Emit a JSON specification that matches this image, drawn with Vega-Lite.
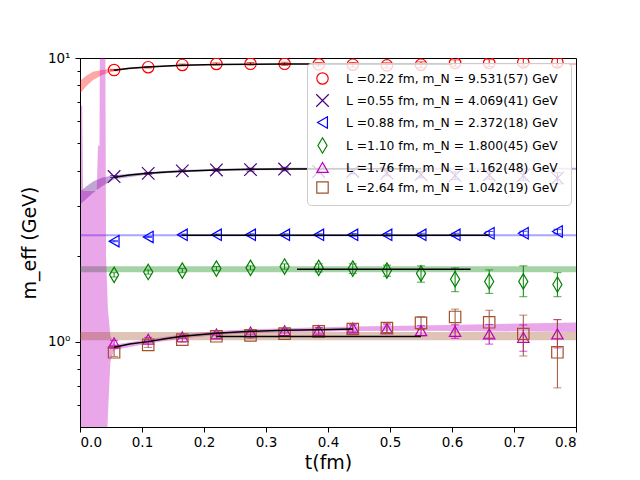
{
  "$schema": "https://vega.github.io/schema/vega-lite/v6.json",
  "description": "Effective nucleon mass vs t for six box sizes, log y axis, with fit curves and bands.",
  "width": 496,
  "height": 369,
  "autosize": "none",
  "padding": {"left": 80, "top": 58, "right": 64, "bottom": 53},
  "datasets": {
    "pts": [
      {"s": "0.22", "t": 0.055, "m": 9.07, "lo": 9.02, "hi": 9.12},
      {"s": "0.22", "t": 0.11, "m": 9.28, "lo": 9.22, "hi": 9.34},
      {"s": "0.22", "t": 0.165, "m": 9.45, "lo": 9.38, "hi": 9.52},
      {"s": "0.22", "t": 0.22, "m": 9.53, "lo": 9.45, "hi": 9.61},
      {"s": "0.22", "t": 0.275, "m": 9.54, "lo": 9.44, "hi": 9.64},
      {"s": "0.22", "t": 0.33, "m": 9.54, "lo": 9.42, "hi": 9.66},
      {"s": "0.22", "t": 0.385, "m": 9.5, "lo": 9.36, "hi": 9.64},
      {"s": "0.22", "t": 0.44, "m": 9.47, "lo": 9.3, "hi": 9.64},
      {"s": "0.22", "t": 0.495, "m": 9.42, "lo": 9.22, "hi": 9.62},
      {"s": "0.22", "t": 0.55, "m": 9.47, "lo": 9.25, "hi": 9.69},
      {"s": "0.22", "t": 0.605, "m": 9.6, "lo": 9.35, "hi": 9.85},
      {"s": "0.22", "t": 0.66, "m": 9.6, "lo": 9.33, "hi": 9.87},
      {"s": "0.22", "t": 0.715, "m": 9.65, "lo": 9.35, "hi": 9.95},
      {"s": "0.22", "t": 0.77, "m": 9.65, "lo": 9.33, "hi": 9.97},
      {"s": "0.55", "t": 0.055, "m": 3.82, "lo": 3.79, "hi": 3.85},
      {"s": "0.55", "t": 0.11, "m": 3.92, "lo": 3.89, "hi": 3.95},
      {"s": "0.55", "t": 0.165, "m": 4.0, "lo": 3.97, "hi": 4.03},
      {"s": "0.55", "t": 0.22, "m": 4.03, "lo": 3.99, "hi": 4.07},
      {"s": "0.55", "t": 0.275, "m": 4.04, "lo": 3.99, "hi": 4.09},
      {"s": "0.55", "t": 0.33, "m": 4.06, "lo": 4.0, "hi": 4.12},
      {"s": "0.55", "t": 0.385, "m": 3.98, "lo": 3.91, "hi": 4.05},
      {"s": "0.55", "t": 0.44, "m": 3.98, "lo": 3.9, "hi": 4.06},
      {"s": "0.55", "t": 0.495, "m": 3.93, "lo": 3.84, "hi": 4.02},
      {"s": "0.55", "t": 0.55, "m": 3.88, "lo": 3.78, "hi": 3.98},
      {"s": "0.55", "t": 0.605, "m": 3.85, "lo": 3.73, "hi": 3.97},
      {"s": "0.55", "t": 0.66, "m": 3.87, "lo": 3.74, "hi": 4.0},
      {"s": "0.55", "t": 0.715, "m": 3.85, "lo": 3.71, "hi": 3.99},
      {"s": "0.55", "t": 0.77, "m": 3.77, "lo": 3.6, "hi": 3.94},
      {"s": "0.88", "t": 0.055, "m": 2.26, "lo": 2.25, "hi": 2.27},
      {"s": "0.88", "t": 0.11, "m": 2.34, "lo": 2.33, "hi": 2.35},
      {"s": "0.88", "t": 0.165, "m": 2.38, "lo": 2.365, "hi": 2.395},
      {"s": "0.88", "t": 0.22, "m": 2.38, "lo": 2.365, "hi": 2.395},
      {"s": "0.88", "t": 0.275, "m": 2.38, "lo": 2.36, "hi": 2.4},
      {"s": "0.88", "t": 0.33, "m": 2.38, "lo": 2.36, "hi": 2.4},
      {"s": "0.88", "t": 0.385, "m": 2.38, "lo": 2.36, "hi": 2.4},
      {"s": "0.88", "t": 0.44, "m": 2.38, "lo": 2.355, "hi": 2.405},
      {"s": "0.88", "t": 0.495, "m": 2.38, "lo": 2.355, "hi": 2.405},
      {"s": "0.88", "t": 0.55, "m": 2.38, "lo": 2.35, "hi": 2.41},
      {"s": "0.88", "t": 0.605, "m": 2.38, "lo": 2.35, "hi": 2.41},
      {"s": "0.88", "t": 0.66, "m": 2.41, "lo": 2.375, "hi": 2.445},
      {"s": "0.88", "t": 0.715, "m": 2.41, "lo": 2.37, "hi": 2.45},
      {"s": "0.88", "t": 0.77, "m": 2.445, "lo": 2.4, "hi": 2.49},
      {"s": "1.10", "t": 0.055, "m": 1.72, "lo": 1.69, "hi": 1.75},
      {"s": "1.10", "t": 0.11, "m": 1.76, "lo": 1.73, "hi": 1.79},
      {"s": "1.10", "t": 0.165, "m": 1.78, "lo": 1.75, "hi": 1.81},
      {"s": "1.10", "t": 0.22, "m": 1.81, "lo": 1.78, "hi": 1.84},
      {"s": "1.10", "t": 0.275, "m": 1.82, "lo": 1.79, "hi": 1.85},
      {"s": "1.10", "t": 0.33, "m": 1.84, "lo": 1.8, "hi": 1.88},
      {"s": "1.10", "t": 0.385, "m": 1.82, "lo": 1.76, "hi": 1.88},
      {"s": "1.10", "t": 0.44, "m": 1.81, "lo": 1.74, "hi": 1.88},
      {"s": "1.10", "t": 0.495, "m": 1.78, "lo": 1.7, "hi": 1.86},
      {"s": "1.10", "t": 0.55, "m": 1.74, "lo": 1.62, "hi": 1.85},
      {"s": "1.10", "t": 0.605, "m": 1.66, "lo": 1.5, "hi": 1.82},
      {"s": "1.10", "t": 0.66, "m": 1.63, "lo": 1.48, "hi": 1.79},
      {"s": "1.10", "t": 0.715, "m": 1.63, "lo": 1.44, "hi": 1.85},
      {"s": "1.10", "t": 0.77, "m": 1.59, "lo": 1.44, "hi": 1.75},
      {"s": "1.76", "t": 0.055, "m": 0.99, "lo": 0.97, "hi": 1.01},
      {"s": "1.76", "t": 0.11, "m": 1.02, "lo": 1.005, "hi": 1.035},
      {"s": "1.76", "t": 0.165, "m": 1.04, "lo": 1.025, "hi": 1.055},
      {"s": "1.76", "t": 0.22, "m": 1.064, "lo": 1.049, "hi": 1.079},
      {"s": "1.76", "t": 0.275, "m": 1.082, "lo": 1.062, "hi": 1.102},
      {"s": "1.76", "t": 0.33, "m": 1.093, "lo": 1.073, "hi": 1.113},
      {"s": "1.76", "t": 0.385, "m": 1.096, "lo": 1.071, "hi": 1.121},
      {"s": "1.76", "t": 0.44, "m": 1.117, "lo": 1.087, "hi": 1.147},
      {"s": "1.76", "t": 0.495, "m": 1.111, "lo": 1.076, "hi": 1.146},
      {"s": "1.76", "t": 0.55, "m": 1.093, "lo": 1.048, "hi": 1.138},
      {"s": "1.76", "t": 0.605, "m": 1.087, "lo": 1.027, "hi": 1.147},
      {"s": "1.76", "t": 0.66, "m": 1.064, "lo": 0.98, "hi": 1.15},
      {"s": "1.76", "t": 0.715, "m": 1.035, "lo": 0.925, "hi": 1.145},
      {"s": "1.76", "t": 0.77, "m": 1.064, "lo": 0.95, "hi": 1.196},
      {"s": "2.64", "t": 0.055, "m": 0.917, "lo": 0.887, "hi": 0.947},
      {"s": "2.64", "t": 0.11, "m": 0.974, "lo": 0.954, "hi": 0.994},
      {"s": "2.64", "t": 0.165, "m": 1.016, "lo": 0.996, "hi": 1.036},
      {"s": "2.64", "t": 0.22, "m": 1.044, "lo": 1.024, "hi": 1.064},
      {"s": "2.64", "t": 0.275, "m": 1.052, "lo": 1.027, "hi": 1.077},
      {"s": "2.64", "t": 0.33, "m": 1.067, "lo": 1.042, "hi": 1.092},
      {"s": "2.64", "t": 0.385, "m": 1.087, "lo": 1.057, "hi": 1.117},
      {"s": "2.64", "t": 0.44, "m": 1.108, "lo": 1.073, "hi": 1.143},
      {"s": "2.64", "t": 0.495, "m": 1.117, "lo": 1.077, "hi": 1.157},
      {"s": "2.64", "t": 0.55, "m": 1.164, "lo": 1.104, "hi": 1.224},
      {"s": "2.64", "t": 0.605, "m": 1.222, "lo": 1.082, "hi": 1.302},
      {"s": "2.64", "t": 0.66, "m": 1.17, "lo": 1.03, "hi": 1.29},
      {"s": "2.64", "t": 0.715, "m": 1.064, "lo": 0.89, "hi": 1.24},
      {"s": "2.64", "t": 0.77, "m": 0.917, "lo": 0.687, "hi": 1.195}
    ],
    "bands": [
      {"s": "0.22", "t": 0.0, "lo": 7.5, "hi": 8.3},
      {"s": "0.22", "t": 0.01, "lo": 7.95, "hi": 8.65},
      {"s": "0.22", "t": 0.021, "lo": 8.37, "hi": 8.95},
      {"s": "0.22", "t": 0.035, "lo": 8.7, "hi": 9.08},
      {"s": "0.22", "t": 0.048, "lo": 8.9, "hi": 9.15},
      {"s": "0.22", "t": 0.055, "lo": 9.0, "hi": 9.12},
      {"s": "0.22", "t": 0.11, "lo": 9.25, "hi": 9.35},
      {"s": "0.22", "t": 0.165, "lo": 9.38, "hi": 9.46},
      {"s": "0.22", "t": 0.22, "lo": 9.44, "hi": 9.53},
      {"s": "0.22", "t": 0.33, "lo": 9.48, "hi": 9.57},
      {"s": "0.22", "t": 0.8, "lo": 9.47, "hi": 9.59},
      {"s": "0.55", "t": 0.0, "lo": 3.04, "hi": 3.38},
      {"s": "0.55", "t": 0.01, "lo": 3.18, "hi": 3.52},
      {"s": "0.55", "t": 0.021, "lo": 3.34, "hi": 3.67},
      {"s": "0.55", "t": 0.035, "lo": 3.52, "hi": 3.78},
      {"s": "0.55", "t": 0.048, "lo": 3.66, "hi": 3.84},
      {"s": "0.55", "t": 0.055, "lo": 3.74, "hi": 3.86},
      {"s": "0.55", "t": 0.11, "lo": 3.88, "hi": 3.96},
      {"s": "0.55", "t": 0.165, "lo": 3.96, "hi": 4.03},
      {"s": "0.55", "t": 0.22, "lo": 4.0, "hi": 4.07},
      {"s": "0.55", "t": 0.33, "lo": 4.03, "hi": 4.1},
      {"s": "0.55", "t": 0.8, "lo": 4.04, "hi": 4.1},
      {"s": "0.88", "t": 0.0, "lo": 2.354, "hi": 2.39},
      {"s": "0.88", "t": 0.8, "lo": 2.354, "hi": 2.39},
      {"s": "1.10", "t": 0.0, "lo": 1.755, "hi": 1.845},
      {"s": "1.10", "t": 0.8, "lo": 1.755, "hi": 1.845},
      {"s": "1.76", "t": 0.0016, "lo": 0.3, "hi": 6.8},
      {"s": "1.76", "t": 0.0035, "lo": 0.3, "hi": 6.8},
      {"s": "1.76", "t": 0.005, "lo": 0.3, "hi": 3.4},
      {"s": "1.76", "t": 0.027, "lo": 0.3, "hi": 3.4},
      {"s": "1.76", "t": 0.029, "lo": 0.3, "hi": 4.9},
      {"s": "1.76", "t": 0.0315, "lo": 0.3, "hi": 4.9},
      {"s": "1.76", "t": 0.0325, "lo": 0.3, "hi": 20},
      {"s": "1.76", "t": 0.0405, "lo": 0.3, "hi": 20},
      {"s": "1.76", "t": 0.042, "lo": 0.35, "hi": 2.0},
      {"s": "1.76", "t": 0.045, "lo": 0.55, "hi": 1.3},
      {"s": "1.76", "t": 0.049, "lo": 0.85, "hi": 1.05},
      {"s": "1.76", "t": 0.055, "lo": 0.935, "hi": 0.975},
      {"s": "1.76", "t": 0.11, "lo": 0.985, "hi": 1.02},
      {"s": "1.76", "t": 0.165, "lo": 1.025, "hi": 1.06},
      {"s": "1.76", "t": 0.22, "lo": 1.055, "hi": 1.09},
      {"s": "1.76", "t": 0.275, "lo": 1.07, "hi": 1.105},
      {"s": "1.76", "t": 0.33, "lo": 1.08, "hi": 1.115},
      {"s": "1.76", "t": 0.44, "lo": 1.09, "hi": 1.13},
      {"s": "1.76", "t": 0.55, "lo": 1.093, "hi": 1.14},
      {"s": "1.76", "t": 0.8, "lo": 1.082, "hi": 1.169},
      {"s": "2.64", "t": 0.0, "lo": 1.012, "hi": 1.082},
      {"s": "2.64", "t": 0.8, "lo": 1.012, "hi": 1.082}
    ],
    "fits": [
      {"s": "0.22", "t": 0.055, "m": 9.06},
      {"s": "0.22", "t": 0.08, "m": 9.2},
      {"s": "0.22", "t": 0.11, "m": 9.3},
      {"s": "0.22", "t": 0.14, "m": 9.37},
      {"s": "0.22", "t": 0.165, "m": 9.42},
      {"s": "0.22", "t": 0.22, "m": 9.48},
      {"s": "0.22", "t": 0.275, "m": 9.51},
      {"s": "0.22", "t": 0.33, "m": 9.525},
      {"s": "0.22", "t": 0.44, "m": 9.53},
      {"s": "0.22", "t": 0.6, "m": 9.531},
      {"s": "0.55", "t": 0.055, "m": 3.8},
      {"s": "0.55", "t": 0.08, "m": 3.87},
      {"s": "0.55", "t": 0.11, "m": 3.92},
      {"s": "0.55", "t": 0.14, "m": 3.96},
      {"s": "0.55", "t": 0.165, "m": 3.99},
      {"s": "0.55", "t": 0.22, "m": 4.03},
      {"s": "0.55", "t": 0.275, "m": 4.05},
      {"s": "0.55", "t": 0.33, "m": 4.06},
      {"s": "0.55", "t": 0.44, "m": 4.067},
      {"s": "0.55", "t": 0.55, "m": 4.069},
      {"s": "0.88", "t": 0.165, "m": 2.372},
      {"s": "0.88", "t": 0.66, "m": 2.372},
      {"s": "1.10", "t": 0.35, "m": 1.8},
      {"s": "1.10", "t": 0.63, "m": 1.8},
      {"s": "1.76", "t": 0.055, "m": 0.955},
      {"s": "1.76", "t": 0.08, "m": 0.98},
      {"s": "1.76", "t": 0.11, "m": 1.0},
      {"s": "1.76", "t": 0.14, "m": 1.025},
      {"s": "1.76", "t": 0.165, "m": 1.044},
      {"s": "1.76", "t": 0.22, "m": 1.07},
      {"s": "1.76", "t": 0.275, "m": 1.087},
      {"s": "1.76", "t": 0.33, "m": 1.096},
      {"s": "1.76", "t": 0.385, "m": 1.102},
      {"s": "1.76", "t": 0.44, "m": 1.107},
      {"s": "2.64", "t": 0.22, "m": 1.042},
      {"s": "2.64", "t": 0.55, "m": 1.042}
    ]
  },
  "layer": [
    {
      "data": {"name": "bands"},
      "mark": {"type": "area", "opacity": 0.35, "clip": true},
      "encoding": {
        "x": {
          "field": "t",
          "type": "quantitative",
          "title": "t(fm)",
          "scale": {"domain": [0, 0.8], "nice": false},
          "axis": {
            "values": [0, 0.1, 0.2, 0.3, 0.4, 0.5, 0.6, 0.7, 0.8],
            "format": ".1f",
            "tickSize": 5,
            "labelPadding": 3,
            "titlePadding": 5
          }
        },
        "y": {
          "field": "lo",
          "type": "quantitative",
          "title": "m_eff (GeV)",
          "scale": {"type": "log", "domain": [0.5, 10], "nice": false},
          "axis": {
            "values": [0.6, 0.7, 0.8, 0.9, 1, 2, 3, 4, 5, 6, 7, 8, 9, 10],
            "labelExpr": "datum.value == 1 ? '10⁰' : datum.value == 10 ? '10¹' : ''",
            "tickSize": {"condition": {"test": "datum.value == 1 || datum.value == 10", "value": 5}, "value": 3},
            "labelPadding": 5,
            "titlePadding": 8
          }
        },
        "y2": {"field": "hi"},
        "fill": {
          "field": "s",
          "type": "nominal",
          "legend": null,
          "scale": {
            "domain": ["2.64", "1.76", "1.10", "0.88", "0.55", "0.22"],
            "range": ["#a0522d", "#bf00bf", "#008000", "#0000ff", "#4b0082", "#ff0000"]
          }
        }
      }
    },
    {
      "data": {"name": "pts"},
      "mark": {"type": "rule", "strokeWidth": 1, "clip": true},
      "encoding": {
        "x": {"field": "t", "type": "quantitative", "title": "t(fm)"},
        "y": {"field": "lo", "type": "quantitative", "title": "m_eff (GeV)"},
        "y2": {"field": "hi"},
        "stroke": {
          "field": "s",
          "type": "nominal",
          "legend": null,
          "scale": {
            "domain": ["0.55", "0.88", "1.10", "1.76", "2.64", "0.22"],
            "range": ["#4b0082", "#0000ff", "#008000", "#bf00bf", "#a0522d", "#ff0000"]
          }
        }
      }
    },
    {
      "data": {"name": "pts"},
      "mark": {"type": "tick", "orient": "horizontal", "size": 8, "thickness": 1, "clip": true},
      "encoding": {
        "x": {"field": "t", "type": "quantitative", "title": "t(fm)"},
        "y": {"field": "lo", "type": "quantitative", "title": "m_eff (GeV)"},
        "fill": {"field": "s", "type": "nominal", "legend": null}
      }
    },
    {
      "data": {"name": "pts"},
      "mark": {"type": "tick", "orient": "horizontal", "size": 8, "thickness": 1, "clip": true},
      "encoding": {
        "x": {"field": "t", "type": "quantitative", "title": "t(fm)"},
        "y": {"field": "hi", "type": "quantitative", "title": "m_eff (GeV)"},
        "fill": {"field": "s", "type": "nominal", "legend": null}
      }
    },
    {
      "data": {"name": "pts"},
      "mark": {"type": "point", "filled": false, "size": 130, "strokeWidth": 1.2, "opacity": 1, "clip": true},
      "encoding": {
        "x": {"field": "t", "type": "quantitative", "title": "t(fm)"},
        "y": {"field": "m", "type": "quantitative", "title": "m_eff (GeV)"},
        "color": {
          "field": "s",
          "type": "nominal",
          "scale": {
            "domain": ["0.22", "0.55", "0.88", "1.10", "1.76", "2.64"],
            "range": ["#ff0000", "#4b0082", "#0000ff", "#008000", "#bf00bf", "#a0522d"]
          },
          "legend": {
            "title": null,
            "orient": "top-right",
            "offset": 5,
            "labelExpr": "datum.label == '0.22' ? 'L =0.22 fm, m_N = 9.531(57)  GeV' : datum.label == '0.55' ? 'L =0.55 fm, m_N = 4.069(41)  GeV' : datum.label == '0.88' ? 'L =0.88 fm, m_N = 2.372(18)  GeV' : datum.label == '1.10' ? 'L =1.10 fm, m_N = 1.800(45)  GeV' : datum.label == '1.76' ? 'L =1.76 fm, m_N = 1.162(48) GeV' : 'L =2.64 fm, m_N = 1.042(19) GeV'"
          }
        },
        "shape": {
          "field": "s",
          "type": "nominal",
          "scale": {
            "domain": ["0.22", "0.55", "0.88", "1.10", "1.76", "2.64"],
            "range": ["circle", "M-1.1,-1.1L1.1,1.1M-1.1,1.1L1.1,-1.1", "triangle-left", "M0,-1.35L0.8,0L0,1.35L-0.8,0Z", "triangle-up", "square"]
          }
        }
      }
    },
    {
      "data": {"name": "fits"},
      "mark": {"type": "line", "color": "black", "strokeWidth": 1.5, "clip": true},
      "encoding": {
        "x": {"field": "t", "type": "quantitative", "title": "t(fm)"},
        "y": {"field": "m", "type": "quantitative", "title": "m_eff (GeV)"},
        "detail": {"field": "s", "type": "nominal"}
      }
    }
  ],
  "config": {
    "font": "DejaVu Sans",
    "view": {"stroke": "black", "strokeWidth": 1},
    "axis": {
      "grid": false,
      "domainColor": "black",
      "tickColor": "black",
      "labelColor": "black",
      "titleColor": "black",
      "labelFont": "DejaVu Sans",
      "titleFont": "DejaVu Sans",
      "labelFontSize": 13.5,
      "titleFontSize": 19,
      "titleFontWeight": "normal"
    },
    "legend": {
      "labelFont": "DejaVu Sans",
      "labelFontSize": 12.3,
      "labelColor": "black",
      "labelLimit": 400,
      "labelOffset": 17,
      "symbolSize": 130,
      "symbolStrokeWidth": 1.2,
      "rowPadding": 4,
      "padding": 9,
      "fillColor": "rgba(255,255,255,0.8)",
      "strokeColor": "#cccccc",
      "cornerRadius": 4
    }
  }
}
